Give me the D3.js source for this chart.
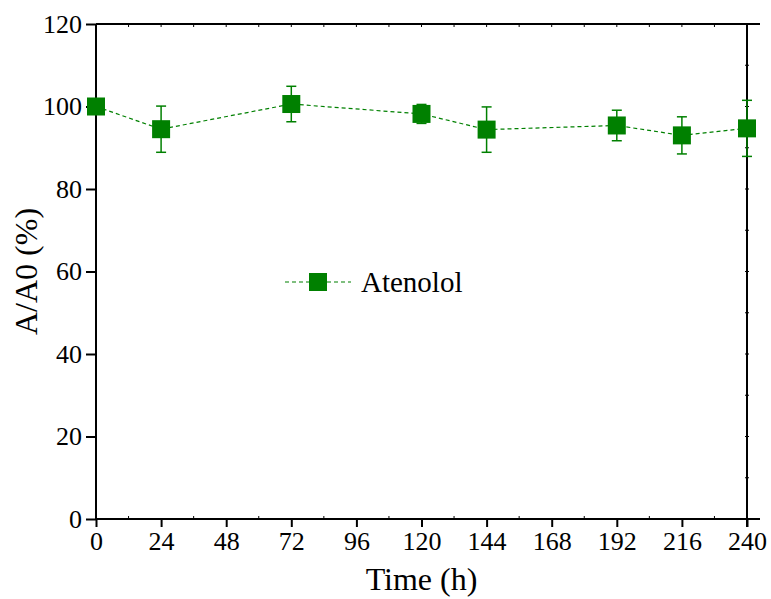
<!DOCTYPE html>
<html>
<head>
<meta charset="utf-8">
<script src="https://d3js.org/d3.v7.min.js"></script>
<style>
  body { margin: 0; background: #fff; }
  text { font-family: "Liberation Serif", "Times New Roman", serif; fill: #000; }
</style>
</head>
<body>
<div id="chart"></div>
<script>
// data
const hours = [0, 24, 72, 120, 144, 192, 216, 240];
const ratio = [100.0, 94.5, 100.6, 98.2, 94.4, 95.4, 93.0, 94.7];
const errs = [0.5, 5.6, 4.3, 2.3, 5.5, 3.7, 4.5, 6.8];
const xTicks = [0, 24, 48, 72, 96, 120, 144, 168, 192, 216, 240];
const yTicks = [0, 20, 40, 60, 80, 100, 120];
const seriesName = "Atenolol";

const width = 771, height = 599;
const green = "#008000";

const svg = d3.select("#chart").append("svg")
  .attr("width", width)
  .attr("height", height);

const x = d3.scaleLinear().domain([0, 240]).range([96, 747]);
const y = d3.scaleLinear().domain([0, 120]).range([519, 24]);

// bottom axis
const xAxis = d3.axisBottom(x).tickValues(xTicks).tickSize(8).tickSizeOuter(0).tickPadding(5);
const gx = svg.append("g").attr("transform", `translate(0,${y(0)})`).call(xAxis)
  .attr("font-family", "Liberation Serif");
gx.select(".domain").remove();
gx.selectAll(".tick line").attr("stroke", "#000").attr("stroke-width", 2);
gx.selectAll(".tick text").style("font-size", "26px");

// left axis
const yAxis = d3.axisLeft(y).tickValues(yTicks).tickSize(10).tickSizeOuter(0).tickPadding(4);
const gy = svg.append("g").attr("transform", `translate(${x(0)},0)`).call(yAxis)
  .attr("font-family", "Liberation Serif");
gy.select(".domain").remove();
gy.selectAll(".tick line").attr("stroke", "#000").attr("stroke-width", 2);
gy.selectAll(".tick text").style("font-size", "26px");

// minor ticks
const minorX = d3.range(12, 240, 24);
svg.append("g").selectAll("line.mb").data(minorX).enter().append("line")
  .attr("x1", d => x(d)).attr("x2", d => x(d))
  .attr("y1", y(0)).attr("y2", y(0) - 3)
  .attr("stroke", "#000").attr("stroke-width", 1);
svg.append("g").selectAll("line.mt").data(d3.range(12, 240, 12)).enter().append("line")
  .attr("x1", d => x(d)).attr("x2", d => x(d))
  .attr("y1", y(120)).attr("y2", y(120) + 3)
  .attr("stroke", "#000").attr("stroke-width", 1);
svg.append("g").selectAll("line.mr").data(d3.range(10, 120, 10)).enter().append("line")
  .attr("x1", x(240) - 2).attr("x2", x(240) + 2)
  .attr("y1", d => y(d)).attr("y2", d => y(d))
  .attr("stroke", "#000").attr("stroke-width", 1);

// frame
const frame = svg.append("g").attr("stroke", "#000").attr("stroke-width", 2);
frame.append("line").attr("x1", x(0)).attr("x2", x(240) + 13).attr("y1", y(0)).attr("y2", y(0));
frame.append("line").attr("x1", x(0)).attr("x2", x(240) + 13).attr("y1", y(120)).attr("y2", y(120));
frame.append("line").attr("x1", x(0)).attr("x2", x(0)).attr("y1", y(0)).attr("y2", y(120));
frame.append("line").attr("x1", x(240)).attr("x2", x(240)).attr("y1", y(0) + 8).attr("y2", y(120));

// axis titles
svg.append("text")
  .attr("x", (x(0) + x(240)) / 2).attr("y", 590)
  .attr("text-anchor", "middle")
  .style("font-size", "32px")
  .text("Time (h)");
svg.append("text")
  .attr("transform", `translate(37,${(y(0) + y(120)) / 2}) rotate(-90)`)
  .attr("text-anchor", "middle")
  .style("font-size", "32px")
  .text("A/A0 (%)");

// data line
const pts = hours.map((h, i) => ({ h: h, v: ratio[i], e: errs[i] }));
const line = d3.line().x(d => x(d.h)).y(d => y(d.v));
svg.append("path")
  .attr("d", line(pts))
  .attr("fill", "none")
  .attr("stroke", green)
  .attr("stroke-width", 1.2)
  .attr("stroke-dasharray", "4,3");

// error bars
const eb = svg.append("g").attr("stroke", green).attr("stroke-width", 1.5);
pts.forEach(d => {
  eb.append("line").attr("x1", x(d.h)).attr("x2", x(d.h))
    .attr("y1", y(d.v - d.e)).attr("y2", y(d.v + d.e));
  eb.append("line").attr("x1", x(d.h) - 5).attr("x2", x(d.h) + 5)
    .attr("y1", y(d.v + d.e)).attr("y2", y(d.v + d.e));
  eb.append("line").attr("x1", x(d.h) - 5).attr("x2", x(d.h) + 5)
    .attr("y1", y(d.v - d.e)).attr("y2", y(d.v - d.e));
});

// markers
const ms = 18;
svg.append("g").selectAll("rect").data(pts).enter().append("rect")
  .attr("x", d => x(d.h) - ms / 2)
  .attr("y", d => y(d.v) - ms / 2)
  .attr("width", ms).attr("height", ms)
  .attr("fill", green);

// legend
const lg = svg.append("g").attr("transform", "translate(285,282)");
lg.append("line").attr("x1", 0).attr("x2", 66).attr("y1", 0).attr("y2", 0)
  .attr("stroke", green).attr("stroke-width", 1.2).attr("stroke-dasharray", "4,3");
lg.append("rect").attr("x", 33 - ms / 2).attr("y", -ms / 2)
  .attr("width", ms).attr("height", ms).attr("fill", green);
lg.append("text").attr("x", 76).attr("y", 10)
  .style("font-size", "29px")
  .text(seriesName);
</script>
</body>
</html>
